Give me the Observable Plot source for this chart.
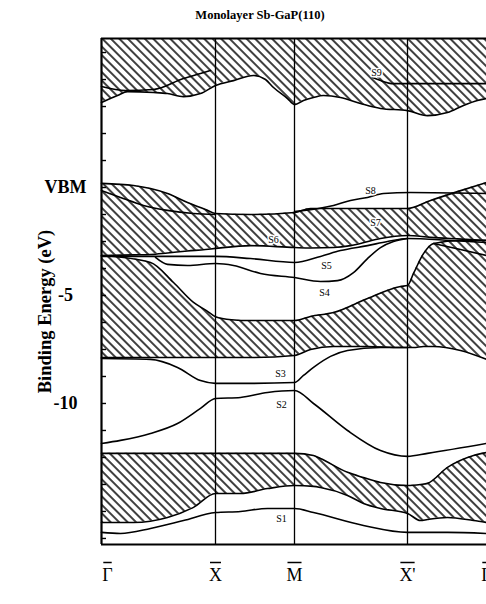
<!DOCTYPE html>
<html><head><meta charset="utf-8">
<script src="https://cdn.jsdelivr.net/npm/d3@7"></script>
<script src="https://cdn.jsdelivr.net/npm/@observablehq/plot@0.6"></script>
<style>
body{margin:0;background:#fff;overflow:hidden}
#wrap{position:relative;width:486px;height:604px}
#title{position:absolute;left:160px;top:8px;width:200px;text-align:center;font:bold 12.5px "Liberation Serif","Times New Roman",serif;color:#000}
</style></head><body>
<div id="wrap"><div id="title">Monolayer Sb-GaP(110)</div></div>
<script>
// ---- symmetry points (k along path, arbitrary units) ----
const symNames = ["Γ", "X", "M", "X'", "Γ"];
const symK = [0, 114, 193, 306, 385];

// ---- energy axis (eV) ----
const eMin = -16.53, eMax = 6.9;
const yTickValues = [0, -5, -10];
const yTickLabels = ["VBM", "-5", "-10"];
const minorTicks = [6.25, 5, 3.75, 2.5, 1.25, 0, -1.25, -2.5, -3.75, -5, -6.25, -7.5, -8.75, -10, -11.25, -12.5, -13.75, -15, -16.25];

// ---- projected bulk bands (hatched regions) ----
const cbK = [0,16,26,52,66,82,99,114,132,152,164,172,186,193,202,212,222,239,259,279,306,326,346,362,376,385];
const cbLow = [3.94,4.26,4.44,4.40,4.35,4.21,4.35,4.72,4.95,5.19,5.00,4.63,4.12,3.84,4.03,4.17,4.26,4.17,3.89,3.66,3.56,3.33,3.47,3.80,4.03,4.12];

const vbK = [0,32,49,66,86,104,114,149,193,209,232,249,259,279,306,329,356,385];
const vbTop = [0.19,0.09,-0.05,-0.28,-0.69,-1.02,-1.20,-1.25,-1.16,-0.97,-0.97,-0.97,-0.97,-0.97,-0.97,-0.60,-0.19,0.23];
const vbBottom = [-3.15,-3.12,-3.10,-3.03,-2.94,-2.87,-2.82,-2.69,-2.78,-2.80,-2.78,-2.69,-2.59,-2.36,-2.22,-2.31,-2.38,-2.45];

const midK = [0,49,72,92,105,114,130,149,193,209,232,266,299,306,312,322,332,359,385];
const midTop = [-3.15,-3.47,-4.40,-5.32,-5.70,-5.98,-6.12,-6.16,-6.16,-5.97,-5.79,-5.14,-4.58,-4.54,-3.98,-3.06,-2.59,-2.45,-2.45];
const midBottom = [-7.87,-7.87,-7.87,-7.87,-7.87,-7.87,-7.87,-7.87,-7.78,-7.50,-7.36,-7.36,-7.41,-7.41,-7.41,-7.36,-7.36,-7.55,-7.96];

const lowK = [0,32,66,92,114,139,166,193,212,219,246,262,279,306,319,326,346,372,385];
const lowTop = [-12.31,-12.31,-12.31,-12.31,-12.31,-12.31,-12.31,-12.31,-12.41,-12.55,-13.19,-13.43,-13.66,-13.80,-13.75,-13.70,-12.96,-12.41,-12.27];
const lowBottom = [-15.51,-15.51,-15.28,-14.81,-14.17,-14.17,-13.94,-13.80,-13.84,-13.89,-14.26,-14.63,-14.86,-15.09,-15.42,-15.37,-15.28,-15.42,-15.51];

// ---- surface-state bands ----
const cbStateK = [0,24,52,82,99,109];
const cbStateE = [4.68,4.49,4.54,5.05,5.28,5.42];
const s9K = [271,279,292,306,339,385];
const s9E = [5.09,4.95,4.81,4.81,4.81,4.81];
const lensK = [0,19,42,66,92,114];
const lensE = [-0.14,-0.46,-0.83,-1.06,-1.20,-1.25];
const s8K = [193,232,249,266,282,309,385];
const s8E = [-1.11,-0.83,-0.60,-0.46,-0.28,-0.23,-0.28];
const s5K = [0,49,82,114,149,193,219,239,266,286,306,349,385];
const s5E = [-3.19,-3.19,-3.19,-3.19,-3.29,-3.47,-3.19,-2.92,-2.69,-2.50,-2.36,-2.45,-2.55];
const s4K = [54,66,86,114,132,159,193,219,236,252,266,279,292,306];
const s4E = [-3.24,-3.56,-3.61,-3.52,-3.61,-3.98,-4.17,-4.35,-4.31,-3.94,-3.29,-2.78,-2.50,-2.36];
const branchK = [332,359,385];
const branchE = [-2.59,-2.87,-3.15];
const s3K = [0,49,76,99,114,149,193,202,212,229,246,279,306];
const s3E = [-7.92,-7.96,-8.33,-8.94,-9.07,-9.07,-9.03,-8.70,-8.33,-7.82,-7.55,-7.41,-7.41];
const s2K = [0,19,49,76,99,114,139,166,193,212,246,279,306,326,385];
const s2E = [-11.85,-11.71,-11.39,-10.93,-10.23,-9.77,-9.72,-9.49,-9.40,-10.00,-11.25,-12.18,-12.45,-12.31,-11.85];
const s1K = [0,19,49,82,114,139,166,193,212,262,306,346,385];
const s1E = [-15.97,-16.02,-15.79,-15.42,-15.05,-15.00,-14.86,-14.86,-15.05,-15.65,-15.97,-15.97,-16.02];

// ---- state labels ----
const stateNames = ["S1","S2","S3","S4","S5","S6","S7","S8","S9"];
const stateLabelK = [180,180,179,223,225,172,274,269,275];
const stateLabelE = [-15.32,-10.05,-8.61,-4.86,-3.61,-2.41,-1.62,-0.14,5.32];

// ---- build tables ----
const rows2 = (ks, a, b) => ks.map((k, i) => ({k, top: a[i], bottom: b[i]}));
const pts = (ks, es) => ks.map((k, i) => ({k, e: es[i]}));
const cbRows = cbK.map((k, i) => ({k, top: eMax, bottom: cbLow[i]}));
const vbRows = rows2(vbK, vbTop, vbBottom);
const midRows = rows2(midK, midTop, midBottom);
const lowRows = rows2(lowK, lowTop, lowBottom);
const syms = symNames.map((name, i) => ({name, k: symK[i]}));
const stateLabels = stateNames.map((name, i) => ({name, k: stateLabelK[i], e: stateLabelE[i]}));

const curve = "monotone-x";
const hatch = "url(#hatch)";
const lw = 1.6;
const area = (rows) => Plot.areaY(rows, {x: "k", y1: "bottom", y2: "top", fill: hatch, curve});
const edge = (rows, key) => Plot.line(rows, {x: "k", y: key, stroke: "black", strokeWidth: lw, curve});
const band = (ks, es) => Plot.line(pts(ks, es), {x: "k", y: "e", stroke: "black", strokeWidth: lw, curve});

const marks = [
  area(cbRows), area(vbRows), area(midRows), area(lowRows),
  edge(cbRows, "bottom"),
  edge(vbRows, "top"), edge(vbRows, "bottom"),
  edge(midRows, "top"), edge(midRows, "bottom"),
  edge(lowRows, "top"), edge(lowRows, "bottom"),
  band(cbStateK, cbStateE), band(s9K, s9E), band(lensK, lensE), band(s8K, s8E),
  band(s5K, s5E), band(s4K, s4E), band(branchK, branchE),
  band(s3K, s3E), band(s2K, s2E), band(s1K, s1E),
  Plot.ruleX(symK.slice(1, 4), {stroke: "black", strokeWidth: 1.3}),
  Plot.ruleX([symK[0]], {stroke: "black", strokeWidth: 2.2}),
  Plot.ruleY([eMin, eMax], {stroke: "black", strokeWidth: 2.2}),
  Plot.axisY ? Plot.axisY(minorTicks, {tickSize: -5, tickFormat: () => "", label: null, strokeWidth: 1.4}) : null,
  Plot.text(stateLabels, {x: "k", y: "e", text: "name", fontSize: 10, fill: "black", stroke: "white", strokeWidth: 3}),
  Plot.text(yTickValues, {y: d => d, text: (d, i) => yTickLabels[i], frameAnchor: "left", dx: -36, textAnchor: "middle", fontSize: 18, fontWeight: "bold", fill: "black"}),
  Plot.text(["Binding Energy (eV)"], {frameAnchor: "left", textAnchor: "middle", rotate: -90, dx: -56, dy: 20, fontSize: 18.5, fontWeight: "bold", fill: "black"}),
  Plot.text(syms.slice(0, 1), {x: "k", text: "name", frameAnchor: "bottom", dy: 36, dx: 6, fontSize: 18, fill: "black"}),
  Plot.text(syms.slice(1), {x: "k", text: "name", frameAnchor: "bottom", dy: 36, fontSize: 18, fill: "black"})
].filter(Boolean);

const svg = Plot.plot({
  width: 486, height: 604,
  marginLeft: 101, marginRight: 0, marginTop: 38, marginBottom: 60,
  x: {domain: [0, 385], axis: null, label: null},
  y: {domain: [eMin, eMax], axis: null, label: null},
  style: {fontFamily: '"Liberation Serif", "Times New Roman", serif', background: "white", color: "black", overflow: "visible"},
  marks
});

// hatch pattern
const ns = "http://www.w3.org/2000/svg";
const defs = document.createElementNS(ns, "defs");
const pat = document.createElementNS(ns, "pattern");
pat.setAttribute("id", "hatch");
pat.setAttribute("patternUnits", "userSpaceOnUse");
pat.setAttribute("width", "10");
pat.setAttribute("height", "6");
pat.setAttribute("patternTransform", "rotate(45)");
const bg = document.createElementNS(ns, "rect");
bg.setAttribute("width", "10"); bg.setAttribute("height", "6"); bg.setAttribute("fill", "white");
const ln = document.createElementNS(ns, "line");
ln.setAttribute("x1", "-1"); ln.setAttribute("x2", "11");
ln.setAttribute("y1", "3"); ln.setAttribute("y2", "3");
ln.setAttribute("stroke", "black"); ln.setAttribute("stroke-width", "1.5");
pat.appendChild(bg); pat.appendChild(ln); defs.appendChild(pat);
svg.insertBefore(defs, svg.firstChild);

document.getElementById("wrap").insertBefore(svg, document.getElementById("title"));

// overbars above the symmetry-point labels (measured from the rendered text)
const symSet = new Set(symNames);
Array.from(svg.querySelectorAll("text")).filter(t => symSet.has(t.textContent)).forEach(t => {
  let b;
  try { b = t.getBBox(); } catch (e) { return; }
  const bar = document.createElementNS(ns, "line");
  bar.setAttribute("x1", b.x + 1); bar.setAttribute("x2", b.x + b.width - 1);
  bar.setAttribute("y1", b.y - 2); bar.setAttribute("y2", b.y - 2);
  bar.setAttribute("stroke", "black"); bar.setAttribute("stroke-width", "1.5");
  const tr = t.getAttribute("transform");
  if (tr) bar.setAttribute("transform", tr);
  t.parentNode.appendChild(bar);
});
</script></body></html>
